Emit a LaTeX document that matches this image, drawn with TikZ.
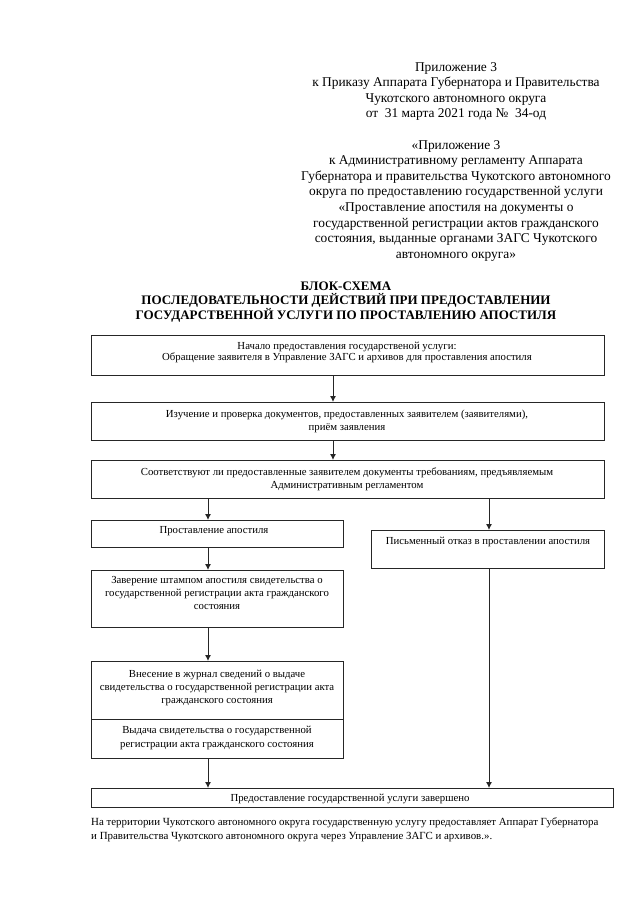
\documentclass[tikz,border=0pt]{standalone}
\usepackage{fontspec}
\setmainfont{Liberation Serif}
\usetikzlibrary{arrows.meta}
\begin{document}
\begin{tikzpicture}[x=1pt,y=-1pt,
  box/.style={draw=black!85,line width=0.8pt,anchor=north west,inner sep=0pt},
  txt/.style={anchor=north,align=center,inner sep=0pt,font=\fontsize{10.76}{13}\selectfont},
  hdr/.style={align=center,inner sep=0pt,font=\fontsize{13.4}{15.6}\selectfont},
  arr/.style={draw=black!85,line width=0.9pt,-{Latex[length=6pt,width=6pt]}}]
\useasboundingbox (0,0) rectangle (640,905);
% header
\node[hdr,anchor=north] (h1) at (456,62) {Приложение 3\\к Приказу Аппарата Губернатора и Правительства\\Чукотского автономного округа\\от\ \ 31 марта 2021 года №\ \ 34-од};
\node[hdr,anchor=north] (h2) at (456,140) {«Приложение 3\\к Административному регламенту Аппарата\\Губернатора и правительства Чукотского автономного\\округа по предоставлению государственной услуги\\«Проставление апостиля на документы о\\государственной регистрации актов гражданского\\состояния, выданные органами ЗАГС Чукотского\\автономного округа»};
% title
\node[hdr,anchor=north,font=\fontsize{13}{13.6}\selectfont\bfseries] (title) at (346,282) {БЛОК-СХЕМА\\ПОСЛЕДОВАТЕЛЬНОСТИ ДЕЙСТВИЙ ПРИ ПРЕДОСТАВЛЕНИИ\\ГОСУДАРСТВЕННОЙ УСЛУГИ ПО ПРОСТАВЛЕНИЮ АПОСТИЛЯ};
% boxes
\node[box,minimum width=513pt,minimum height=40pt] (b1) at (91,335) {};
\node[txt,font=\fontsize{10.76}{11.5}\selectfont] (t1) at (347,341.5) {Начало предоставления государственой услуги:\\Обращение заявителя в Управление ЗАГС и архивов для проставления апостиля};
\node[box,minimum width=513pt,minimum height=38pt] (b2) at (91,402) {};
\node[txt] (t2) at (347,409.5) {Изучение и проверка документов, предоставленных заявителем (заявителями),\\приём заявления};
\node[box,minimum width=513pt,minimum height=38pt] (b3) at (91,460) {};
\node[txt] (t3) at (347,467.5) {Соответствуют ли предоставленные заявителем документы требованиям, предъявляемым\\Административным регламентом};
\node[box,minimum width=252pt,minimum height=27pt] (b4) at (91,520) {};
\node[txt] (t4) at (214,526.5) {Проставление апостиля};
\node[box,minimum width=233pt,minimum height=38pt] (b5) at (371,530) {};
\node[txt] (t5) at (488,537) {Письменный отказ в проставлении апостиля};
\node[box,minimum width=252pt,minimum height=57pt] (b6) at (91,570) {};
\node[txt] (t6) at (217,576.5) {Заверение штампом апостиля свидетельства о\\государственной регистрации акта гражданского\\состояния};
\node[box,minimum width=252pt,minimum height=58pt] (b7) at (91,661) {};
\node[txt] (t7) at (217,670) {Внесение в журнал сведений о выдаче\\свидетельства о государственной регистрации акта\\гражданского состояния};
\node[box,minimum width=252pt,minimum height=39pt] (b8) at (91,719) {};
\node[txt,font=\fontsize{10.76}{13.5}\selectfont] (t8) at (217,726) {Выдача свидетельства о государственной\\регистрации акта гражданского состояния};
\node[box,minimum width=522pt,minimum height=19pt] (b9) at (91,788) {};
\node[txt] (t9) at (350,793.5) {Предоставление государственной услуги завершено};
% footer
\node[anchor=north west,align=left,inner sep=0pt,font=\fontsize{10.9}{14}\selectfont] (foot) at (91,817.5) {На территории Чукотского автономного округа государственную услугу предоставляет Аппарат Губернатора\\и Правительства Чукотского автономного округа через Управление ЗАГС и архивов.».};
% connector x positions
\coordinate (xm) at (333,0);
\coordinate (xl) at (208,0);
\coordinate (xr) at (489,0);
\draw[arr] (b1.south -| xm) -- (b2.north -| xm);
\draw[arr] (b2.south -| xm) -- (b3.north -| xm);
\draw[arr] (b3.south -| xl) -- (b4.north -| xl);
\draw[arr] (b3.south -| xr) -- (b5.north -| xr);
\draw[arr] (b4.south -| xl) -- (b6.north -| xl);
\draw[arr] (b6.south -| xl) -- (b7.north -| xl);
\draw[arr] (b8.south -| xl) -- (b9.north -| xl);
\draw[arr] (b5.south -| xr) -- (b9.north -| xr);
\end{tikzpicture}
\end{document}
